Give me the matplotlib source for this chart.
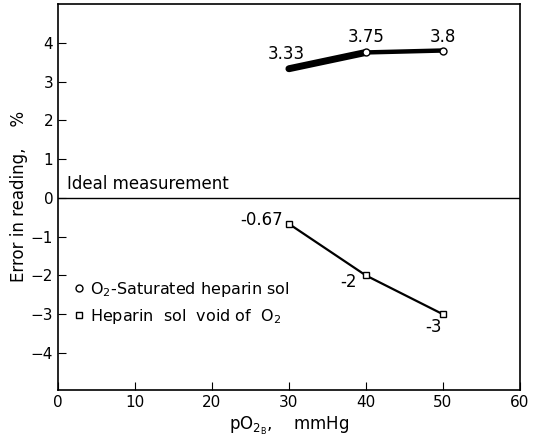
import numpy as np
import matplotlib.pyplot as plt

# data
po2 = [30, 40, 50]
err_saturated = [3.33, 3.75, 3.8]
err_void = [-0.67, -2, -3]
lbl_saturated = ["3.33", "3.75", "3.8"]
lbl_void = ["-0.67", "-2", "-3"]
xticks = [0, 10, 20, 30, 40, 50, 60]
yticks = [-4, -3, -2, -1, 0, 1, 2, 3, 4]

fig = plt.figure(figsize=(5.37, 4.41), dpi=100)
ax = fig.add_axes([0.108, 0.116, 0.86, 0.875])

# O2 saturated: thick line, heavier at the low end
ax.plot(po2[:2], err_saturated[:2], color="black", lw=5, solid_capstyle="round", zorder=3)
ax.plot(po2[1:], err_saturated[1:], color="black", lw=3.2, solid_capstyle="butt", zorder=3)
ax.plot(po2[1:], err_saturated[1:], "o", ms=5, mfc="white", mec="black", mew=1, zorder=4,
        label="O$_2$-Saturated heparin sol")

# void of O2
ax.plot(po2, err_void, color="black", lw=1.6, zorder=3)
ax.plot(po2, err_void, "s", ms=5, mfc="white", mec="black", mew=1, zorder=4,
        label="Heparin  sol  void of  O$_2$")

# value labels
sat_pos = [(29.6, 3.72), (40.0, 4.14), (50.0, 4.14)]
for (x, y), t in zip(sat_pos, lbl_saturated):
    ax.text(x, y, t, ha="center", va="center", fontsize=12)
ax.text(29.2, -0.58, lbl_void[0], ha="right", va="center", fontsize=12)
void_pos = [(37.7, -2.16), (48.8, -3.32)]
for (x, y), t in zip(void_pos, lbl_void[1:]):
    ax.text(x, y, t, ha="center", va="center", fontsize=12)

# ideal measurement line
ax.axhline(0, color="black", lw=1)
ax.text(1.2, 0.12, "Ideal measurement", fontsize=12, ha="left", va="bottom")

ax.legend(loc="upper left", bbox_to_anchor=(0.035, 0.285), frameon=False,
          fontsize=11.5, handlelength=0.6, handletextpad=0.4, borderpad=0,
          labelspacing=0.5, borderaxespad=0)

ax.set_xlim(0, 60)
ax.set_ylim(-4.95, 5.0)
ax.set_xticks(xticks)
ax.set_yticks(yticks)
ax.tick_params(direction="in", length=6, labelsize=11)
for s in ax.spines.values():
    s.set_linewidth(1.2)

ax.set_xlabel(r"pO$_{2_{\rm B}}$,    mmHg", fontsize=12)
ax.set_ylabel("Error in reading,    %", fontsize=12, labelpad=2)

fig.savefig("out.png", dpi=100)
